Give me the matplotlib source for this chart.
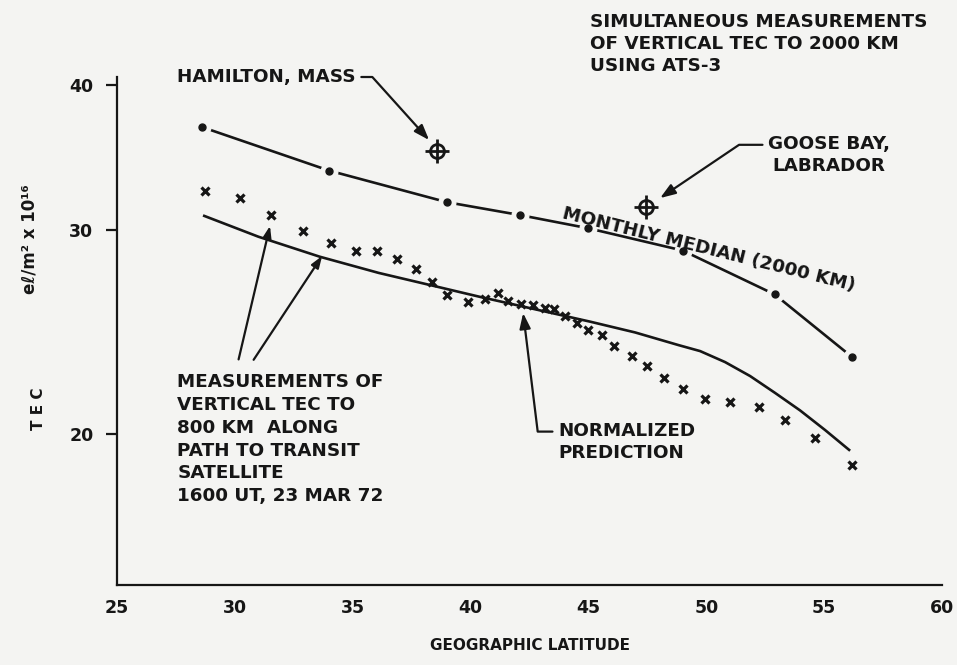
import matplotlib
matplotlib.use("Agg")
import matplotlib.pyplot as plt
from matplotlib.ticker import NullLocator

plt.rcParams['font.family'] = ['DejaVu Sans']
plt.rcParams['font.weight'] = 'bold'

INK = '#161616'
BG = '#f4f4f2'
FS = 13.2

# monthly median of vertical TEC to 2000 km (ATS-3)
median_lat = [28.6, 34.0, 39.0, 42.1, 45.0, 49.0, 52.9, 56.2]
median_tec = [36.8, 33.75, 31.7, 30.9, 30.1, 28.8, 26.4, 23.3]

# vertical TEC to 800 km along path to Transit satellite
meas_lat = [28.74, 30.23, 31.55, 32.87, 34.06, 35.14, 36.02, 36.89, 37.69, 38.37,
            39.02, 39.88, 40.63, 41.16, 41.58, 42.15, 42.64, 43.14, 43.54, 44.02,
            44.51, 44.99, 45.59, 46.09, 46.84, 47.47, 48.19, 49.00, 49.94, 50.99,
            52.25, 53.35, 54.63, 56.17]
meas_tec = [32.4, 31.96, 30.88, 29.92, 29.21, 28.77, 28.8, 28.31, 27.76, 27.08,
            26.39, 26.0, 26.14, 26.47, 26.04, 25.9, 25.85, 25.7, 25.63, 25.29,
            24.94, 24.6, 24.37, 23.83, 23.36, 22.9, 22.37, 21.86, 21.43, 21.32,
            21.12, 20.57, 19.84, 18.82]

# normalized prediction
pred_lat = [28.7, 31.0, 33.6, 36.1, 38.7, 40.4, 45.07, 46.98, 48.83, 49.74, 50.8,
            51.86, 52.92, 53.98, 55.04, 56.06]
pred_tec = [30.85, 29.6, 28.45, 27.55, 26.77, 26.27, 25.01, 24.48, 23.87, 23.59, 23.08,
            22.45, 21.71, 20.97, 20.17, 19.39]

# single station values
station_names = ['HAMILTON, MASS', 'GOOSE BAY,\nLABRADOR']
station_lat = [38.56, 47.46]
station_tec = [35.1, 31.4]

x_ticks = [25, 30, 35, 40, 45, 50, 55, 60]
y_ticks = [20, 30, 40]

fig = plt.figure(figsize=(9.57, 6.65), dpi=100, facecolor=BG)
ax = fig.add_axes([0.1223, 0.1203, 0.862, 0.7639], facecolor=BG)

ax.set_yscale('log')
ax.set_xlim(25, 60)
ax.set_ylim(14.83, 40.64)

ax.plot(pred_lat, pred_tec, color=INK, lw=1.9)
ax.plot(median_lat, median_tec, color=INK, lw=1.9)
ax.plot(median_lat, median_tec, 'o', ms=12, color=BG, ls='none')
ax.plot(median_lat, median_tec, 'o', ms=5, color=INK, ls='none')
ax.plot(meas_lat, meas_tec, 'x', ms=5.5, mew=2.3, color=INK, ls='none')
ax.plot(station_lat, station_tec, 'o', ms=10, mfc='none', mec=INK, mew=2, ls='none')
ax.plot(station_lat, station_tec, '+', ms=17, mec=INK, mew=2, ls='none')

for s in ['top', 'right']:
    ax.spines[s].set_visible(False)
for s in ['left', 'bottom']:
    ax.spines[s].set_linewidth(1.6)
    ax.spines[s].set_color(INK)

ax.set_xticks(x_ticks)
ax.set_xticklabels([str(v) for v in x_ticks])
ax.set_yticks(y_ticks)
ax.set_yticklabels([str(v) for v in y_ticks])
ax.yaxis.set_minor_locator(NullLocator())
ax.tick_params(axis='x', length=0, pad=10, labelsize=12.5, colors=INK)
ax.tick_params(axis='y', length=8, width=1.6, pad=9, labelsize=12.5, colors=INK)

ax.set_xlabel('GEOGRAPHIC LATITUDE', fontsize=11, fontweight='bold', labelpad=15, color=INK)
fig.text(0.031, 0.64, 'eℓ/m² x 10¹⁶', rotation=90, ha='center', va='center',
         fontsize=12, color=INK)
fig.text(0.040, 0.385, 'T E C', rotation=90, ha='center', va='center',
         fontsize=11, color=INK)

arrow = dict(arrowstyle='-|>,head_length=0.7,head_width=0.25', color=INK, lw=1.6,
             shrinkA=2, shrinkB=0)

# station annotations
ax.annotate(station_names[0], xy=(38.24, 35.86), xytext=(27.55, 40.64),
            ha='left', va='center', fontsize=FS, color=INK, annotation_clip=False,
            arrowprops=dict(arrow, relpos=(1, 0.5),
                            connectionstyle='angle,angleA=0,angleB=-48,rad=0'))
ax.annotate(station_names[1], xy=(48.04, 31.96), xytext=(52.62, 34.81),
            ha='left', va='center', multialignment='center', fontsize=FS,
            color=INK, linespacing=1.35, annotation_clip=False,
            arrowprops=dict(arrow, relpos=(0, 0.75),
                            connectionstyle='angle,angleA=0,angleB=34,rad=0'))

ax.text(45.07, 43.4, 'SIMULTANEOUS MEASUREMENTS\nOF VERTICAL TEC TO 2000 KM\nUSING ATS-3',
        ha='left', va='center', fontsize=FS, color=INK, linespacing=1.3, clip_on=False)

ax.text(50.1, 28.83, 'MONTHLY MEDIAN (2000 KM)', rotation=-14, ha='center', va='center',
        rotation_mode='anchor', fontsize=FS, color=INK)

ax.annotate('NORMALIZED\nPREDICTION', xy=(42.23, 25.44), xytext=(43.71, 19.71),
            ha='left', va='center', fontsize=FS, color=INK, linespacing=1.3,
            arrowprops=dict(arrow, relpos=(0, 0.75),
                            connectionstyle='angle,angleA=0,angleB=97,rad=0'))

ax.text(27.55, 19.81, 'MEASUREMENTS OF\nVERTICAL TEC TO\n800 KM  ALONG\nPATH TO TRANSIT\n'
        'SATELLITE\n1600 UT, 23 MAR 72', ha='left', va='center', fontsize=FS,
        color=INK, linespacing=1.35)
ax.annotate('', xy=(31.49, 30.24), xytext=(30.13, 23.08), arrowprops=arrow)
ax.annotate('', xy=(33.70, 28.49), xytext=(30.73, 23.08), arrowprops=arrow)

fig.savefig('out.png', dpi=100, facecolor=BG)
